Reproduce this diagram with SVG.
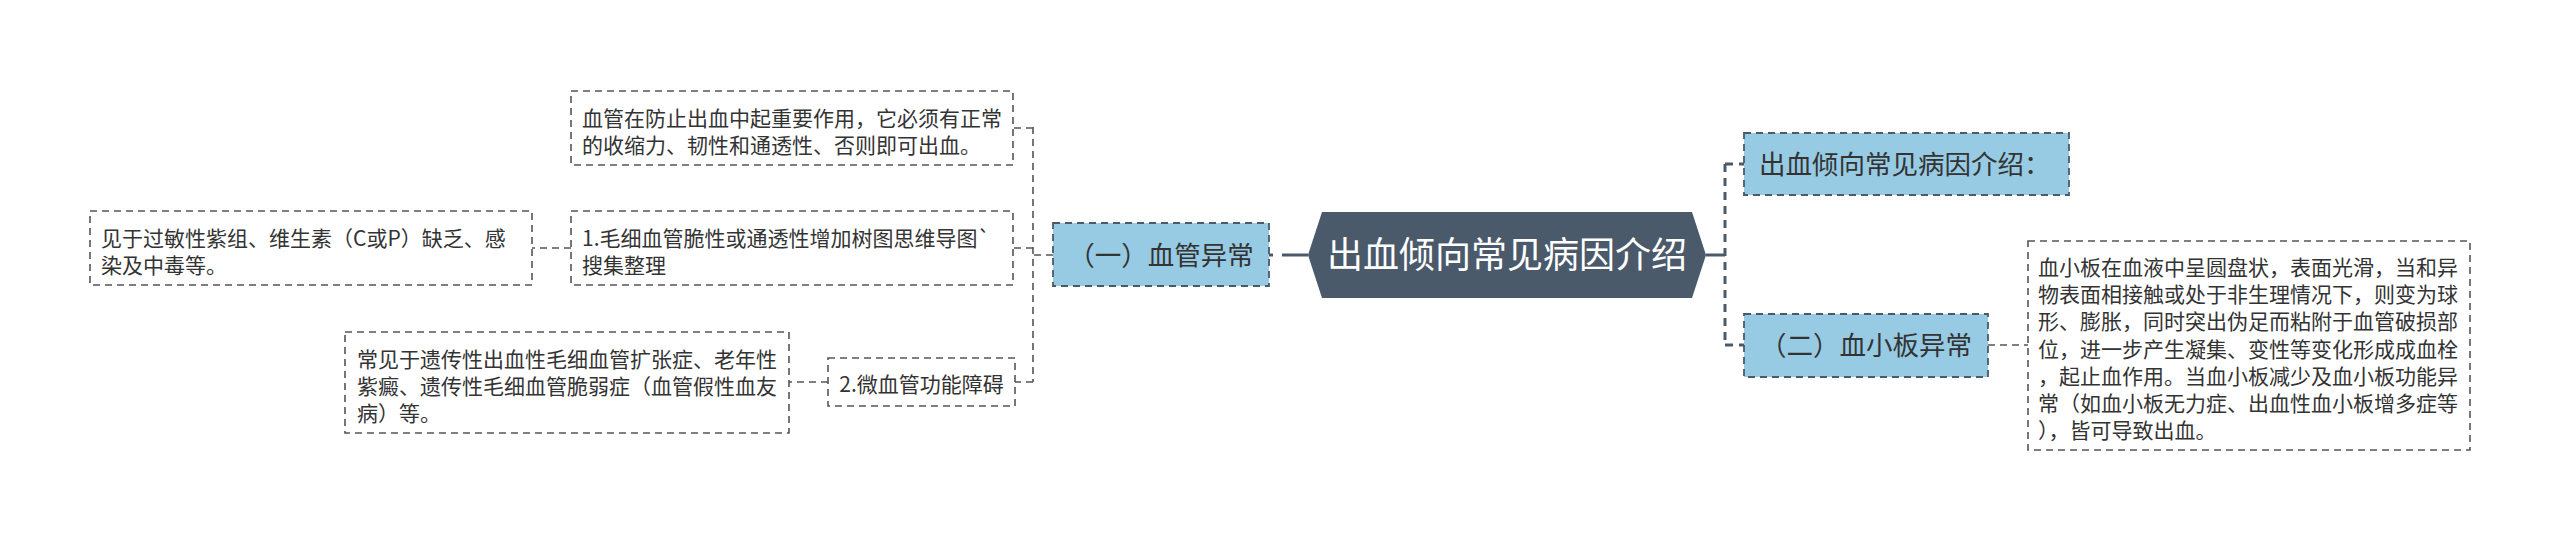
<svg xmlns="http://www.w3.org/2000/svg" width="2560" height="541" viewBox="0 0 2560 541">
<style>
.t{font-family:"Noto Sans CJK SC","Noto Sans",sans-serif;fill:#333333}
.s{font-size:21px}
.m{font-size:26.5px}
.box{fill:#ffffff;stroke:#555555;stroke-width:1.6;stroke-dasharray:7 5}
.blue{fill:#97cbe4;stroke:#4a5a6b;stroke-width:1.8;stroke-dasharray:7 5}
.thin{fill:none;stroke:#555555;stroke-width:1.6;stroke-dasharray:7 5}
.thick{fill:none;stroke:#4a5a6b;stroke-width:3;stroke-dasharray:8 6}
.solid{fill:none;stroke:#4a5a6b;stroke-width:3}
</style>
<rect width="2560" height="541" fill="#ffffff"/>
<g id="connectors">
<path class="solid" d="M1269 255H1308" stroke-dasharray="4 9 60"/>
<path class="thin" d="M1053 255H1033"/>
<path class="thin" d="M1033 127V382"/>
<path class="thin" d="M1033 128H1013"/>
<path class="thin" d="M1033 248H1013"/>
<path class="thin" d="M1033 382H1015"/>
<path class="thin" d="M571 248H532"/>
<path class="thin" d="M828 382H789"/>
<path class="solid" d="M1706 255H1725"/>
<path class="thick" d="M1725 164V345"/>
<path class="thick" d="M1725 164H1744"/>
<path class="thick" d="M1725 345H1744"/>
<path class="thin" d="M1988 345H2028"/>
</g>
<g id="root">
<polygon points="1308,255 1322,212 1692,212 1706,255 1692,298 1322,298" fill="#4a5a6b"/>
<text class="t" x="1507" y="268" font-size="36" text-anchor="middle" style="fill:#ffffff">出血倾向常见病因介绍</text>
</g>
<g id="n-vascular">
<rect class="blue" x="1053" y="223" width="216" height="63"/>
<text class="t m" x="1161" y="265" text-anchor="middle">（一）血管异常</text>
</g>
<g id="n-vascular-desc">
<rect class="box" x="571" y="91" width="442" height="74"/>
<text class="t s"><tspan x="582" y="126">血管在防止出血中起重要作用，它必须有正常</tspan><tspan x="582" y="153">的收缩力、韧性和通透性、否则即可出血。</tspan></text>
</g>
<g id="n-capillary">
<rect class="box" x="571" y="211" width="442" height="74"/>
<text class="t s"><tspan x="582" y="245.5">1.毛细血管脆性或通透性增加树图思维导图`</tspan><tspan x="582" y="272.5">搜集整理</tspan></text>
</g>
<g id="n-capillary-desc">
<rect class="box" x="90" y="211" width="442" height="74"/>
<text class="t s"><tspan x="101" y="245.5">见于过敏性紫组、维生素（C或P）缺乏、感</tspan><tspan x="101" y="272.5">染及中毒等。</tspan></text>
</g>
<g id="n-micro">
<rect class="box" x="828" y="358" width="187" height="48"/>
<text class="t s" x="921.5" y="392" text-anchor="middle">2.微血管功能障碍</text>
</g>
<g id="n-micro-desc">
<rect class="box" x="345" y="332" width="444" height="101"/>
<text class="t s"><tspan x="357" y="366.5">常见于遗传性出血性毛细血管扩张症、老年性</tspan><tspan x="357" y="393.5">紫癜、遗传性毛细血管脆弱症（血管假性血友</tspan><tspan x="357" y="420.5">病）等。</tspan></text>
</g>
<g id="n-intro">
<rect class="blue" x="1744" y="133" width="325" height="62"/>
<text class="t m" x="1759" y="174">出血倾向常见病因介绍：</text>
</g>
<g id="n-platelet">
<rect class="blue" x="1744" y="314" width="244" height="63"/>
<text class="t m" x="1866" y="355" text-anchor="middle">（二）血小板异常</text>
</g>
<g id="n-platelet-desc">
<rect class="box" x="2028" y="241" width="442" height="209"/>
<text class="t s"><tspan x="2038" y="275">血小板在血液中呈圆盘状，表面光滑，当和异</tspan><tspan x="2038" y="302.2">物表面相接触或处于非生理情况下，则变为球</tspan><tspan x="2038" y="329.4">形、膨胀，同时突出伪足而粘附于血管破损部</tspan><tspan x="2038" y="356.6">位，进一步产生凝集、变性等变化形成成血栓</tspan><tspan x="2038" y="383.8">，起止血作用。当血小板减少及血小板功能异</tspan><tspan x="2038" y="411">常（如血小板无力症、出血性血小板增多症等</tspan><tspan x="2038" y="438.2">），皆可导致出血。</tspan></text>
</g>
</svg>
